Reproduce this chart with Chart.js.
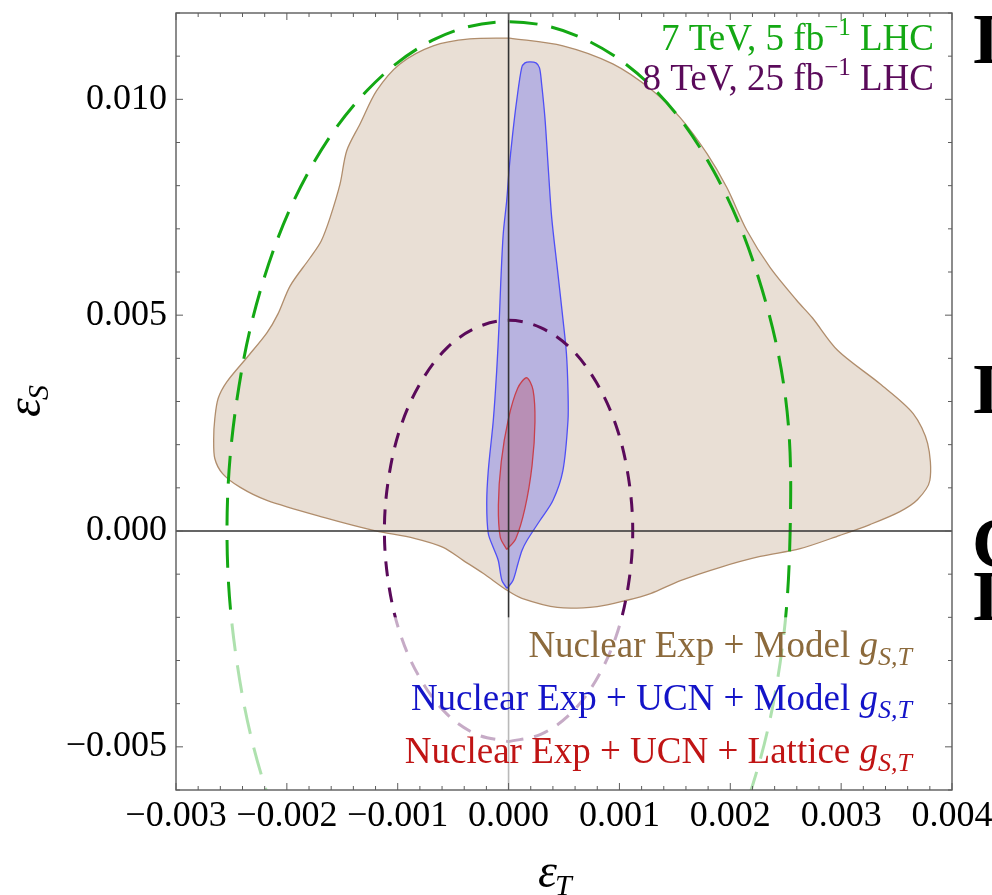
<!DOCTYPE html>
<html>
<head>
<meta charset="utf-8">
<script src="https://cdn.jsdelivr.net/npm/chart.js@4.4.0/dist/chart.umd.min.js"></script>
<style>
  html, body { margin: 0; padding: 0; background: #fff; }
  canvas { display: block; }
</style>
</head>
<body>
<canvas id="chart" width="992" height="895"></canvas>
<script>
const serif = '"Liberation Serif", "Times New Roman", serif';

// axis ticks
const xTicks = [-0.003, -0.002, -0.001, 0, 0.001, 0.002, 0.003, 0.004];
const xTickLabels = ['\u22120.003', '\u22120.002', '\u22120.001', '0.000', '0.001', '0.002', '0.003', '0.004'];
const yTicks = [-0.005, 0, 0.005, 0.010];
const yTickLabels = ['\u22120.005', '0.000', '0.005', '0.010'];

// allowed regions, [eps_T, eps_S]
const nuclearModel = [
  [0.00001, 0.01142], [0.00049, 0.01124], [0.00094, 0.01082], [0.00130, 0.01020], [0.00155, 0.00957],
  [0.00179, 0.00874], [0.00197, 0.00795], [0.00215, 0.00696], [0.00236, 0.00610], [0.00260, 0.00534],
  [0.00274, 0.00494], [0.00297, 0.00418], [0.00335, 0.00341], [0.00365, 0.00272], [0.00378, 0.00203],
  [0.00380, 0.00117], [0.00369, 0.00073], [0.00353, 0.00045], [0.00326, 0.00015], [0.00299, -0.00010],
  [0.00263, -0.00041], [0.00227, -0.00059], [0.00191, -0.00084], [0.00155, -0.00115], [0.00128, -0.00145],
  [0.00106, -0.00161], [0.00080, -0.00175], [0.00044, -0.00177], [0.00012, -0.00156], [-0.00001, -0.00138],
  [-0.00023, -0.00098], [-0.00041, -0.00068], [-0.00059, -0.00038], [-0.00085, -0.00017], [-0.00121, 0.00001],
  [-0.00166, 0.00031], [-0.00218, 0.00071], [-0.00242, 0.00101], [-0.00258, 0.00133], [-0.00265, 0.00168],
  [-0.00266, 0.00214], [-0.00265, 0.00260], [-0.00262, 0.00307], [-0.00254, 0.00346], [-0.00236, 0.00402],
  [-0.00218, 0.00459], [-0.00208, 0.00503], [-0.00197, 0.00568], [-0.00179, 0.00633], [-0.00169, 0.00672],
  [-0.00161, 0.00726], [-0.00152, 0.00804], [-0.00146, 0.00881], [-0.00134, 0.00943], [-0.00119, 0.01020],
  [-0.00098, 0.01082], [-0.00068, 0.01124], [-0.00035, 0.01140], [0.00001, 0.01142]
];

const nuclearUcnModel = [
  [-0.000014, -0.001331], [0.00004, -0.001146], [0.000085, -0.000752], [0.000121, -0.000451], [0.000166, -0.00022],
  [0.000283, 0.000243], [0.0004, 0.000706], [0.00049, 0.0014], [0.000536, 0.00256], [0.000536, 0.00325],
  [0.000522, 0.00411], [0.00049, 0.00492], [0.000439, 0.0061], [0.000389, 0.00726], [0.000358, 0.00841],
  [0.000328, 0.00957], [0.000298, 0.01036], [0.000279, 0.01073], [0.000247, 0.010845], [0.000193, 0.010868],
  [0.000148, 0.010845], [0.000118, 0.01073], [0.000073, 0.009965], [0.000037, 0.009201], [0.000006, 0.008414],
  [-0.000017, 0.00765], [-0.000048, 0.006887], [-0.000071, 0.005729], [-0.000084, 0.004873], [-0.000107, 0.003715],
  [-0.000138, 0.002558], [-0.000183, 0.0014], [-0.000197, 0.000637], [-0.000183, -0.000058], [-0.000138, -0.000382],
  [-0.000093, -0.000683], [-0.00006, -0.001146], [-0.000014, -0.001331]
];

const nuclearUcnLattice = [
  [-0.000017, -0.000428], [-0.000075, -0.000141], [-0.000092, 0.000602], [-0.000066, 0.001604], [-0.000002, 0.002593],
  [0.000082, 0.003308], [0.000163, 0.00355], [0.000221, 0.003266], [0.000238, 0.002523], [0.000212, 0.001521],
  [0.000148, 0.00053], [0.000064, -0.000183], [-0.000017, -0.000428]
];

// LHC bounds
const lhc8 = [
  [0, -0.00488], [0.00029, -0.00471], [0.00056, -0.00423], [0.00079, -0.00345], [0.00097, -0.00244],
  [0.00108, -0.00126], [0.00112, 0], [0.00108, 0.00126], [0.00097, 0.00244], [0.00079, 0.00345],
  [0.00056, 0.00423], [0.00029, 0.00471], [0, 0.00488], [-0.00029, 0.00471], [-0.00056, 0.00423],
  [-0.00079, 0.00345], [-0.00097, 0.00244], [-0.00108, 0.00126], [-0.00112, 0], [-0.00108, -0.00126],
  [-0.00097, -0.00244], [-0.00079, -0.00345], [-0.00056, -0.00423], [-0.00029, -0.00471], [0, -0.00488]
];

const lhc7 = [
  [-0.00180, -0.00834], [-0.00220, -0.00590], [-0.00245, -0.00305], [-0.00254, 0], [-0.00245, 0.00305],
  [-0.00220, 0.00590], [-0.00180, 0.00834], [-0.00127, 0.01022], [-0.00066, 0.01140], [0, 0.01180],
  [0.00068, 0.01140], [0.00132, 0.01022], [0.00185, 0.00834], [0.00225, 0.00590], [0.00250, 0.00305],
  [0.00254, 0], [0.00245, -0.00305], [0.00220, -0.00590], [0.00180, -0.00834]
];

const toPoints = list => list.map(([x, y]) => ({ x, y }));

// draws a run of text pieces with different fonts / offsets, right aligned at xr
function richText(ctx, parts, xr, baseline, color) {
  let w = 0;
  for (const p of parts) { ctx.font = p.font; w += ctx.measureText(p.text).width; }
  let x = xr - w;
  ctx.fillStyle = color;
  ctx.textBaseline = 'alphabetic';
  ctx.textAlign = 'left';
  for (const p of parts) {
    ctx.font = p.font;
    ctx.fillText(p.text, x, baseline + (p.dy || 0));
    x += ctx.measureText(p.text).width;
  }
}

const big = `37px ${serif}`;
const it = `italic 37px ${serif}`;
const sub = `italic 26px ${serif}`;
const sup = `25px ${serif}`;

const overlays = {
  id: 'overlays',
  afterDatasetsDraw(chart) {
    const { ctx, chartArea: a, scales: { x, y } } = chart;
    ctx.save();
    // coordinate axes through the origin
    ctx.strokeStyle = '#333';
    ctx.lineWidth = 1.6;
    ctx.beginPath();
    ctx.moveTo(x.getPixelForValue(0), a.top);
    ctx.lineTo(x.getPixelForValue(0), a.bottom);
    ctx.moveTo(a.left, y.getPixelForValue(0));
    ctx.lineTo(a.right, y.getPixelForValue(0));
    ctx.stroke();

    // legend backdrop
    const yb = y.getPixelForValue(-0.002);
    ctx.fillStyle = 'rgba(255,255,255,0.66)';
    ctx.fillRect(a.left, yb, a.right - a.left, a.bottom - yb);

    const gst = [{ text: 'g', font: it }, { text: 'S,T', font: sub, dy: 8 }];
    richText(ctx, [{ text: 'Nuclear Exp + Model ', font: big }, ...gst], 912, 657, '#8c6a3c');
    richText(ctx, [{ text: 'Nuclear Exp + UCN + Model ', font: big }, ...gst], 912, 710, '#1414c8');
    richText(ctx, [{ text: 'Nuclear Exp + UCN + Lattice ', font: big }, ...gst], 912, 763, '#c01414');

    richText(ctx, [{ text: '7 TeV, 5 fb', font: big }, { text: '\u22121', font: sup, dy: -15 }, { text: ' LHC', font: big }], 934, 50, '#14a814');
    richText(ctx, [{ text: '8 TeV, 25 fb', font: big }, { text: '\u22121', font: sup, dy: -15 }, { text: ' LHC', font: big }], 934, 90, '#5a0a5a');
    ctx.restore();
  },
  afterDraw(chart) {
    const { ctx, chartArea: a, scales: { x, y } } = chart;
    ctx.save();
    ctx.strokeStyle = '#5c5c5c';
    ctx.lineWidth = 1.4;
    ctx.strokeRect(a.left, a.top, a.right - a.left, a.bottom - a.top);

    // inward ticks on all four sides
    ctx.lineWidth = 1;
    ctx.beginPath();
    for (let i = 0; i <= 35; i++) {
      const px = x.getPixelForValue(x.min + i * 0.0002);
      const len = i % 5 === 0 ? 7 : 4;
      ctx.moveTo(px, a.bottom); ctx.lineTo(px, a.bottom - len);
      ctx.moveTo(px, a.top); ctx.lineTo(px, a.top + len);
    }
    for (let i = 0; i <= 18; i++) {
      const py = y.getPixelForValue(y.min + i * 0.001);
      const len = (i - 1) % 5 === 0 ? 7 : 4;
      ctx.moveTo(a.left, py); ctx.lineTo(a.left + len, py);
      ctx.moveTo(a.right, py); ctx.lineTo(a.right - len, py);
    }
    ctx.stroke();

    // axis titles
    ctx.fillStyle = '#000';
    ctx.textBaseline = 'alphabetic';
    ctx.textAlign = 'left';
    ctx.font = `italic 48px ${serif}`;
    const ew = ctx.measureText('\u03b5').width;
    ctx.fillText('\u03b5', 538, 887);
    ctx.font = `italic 30px ${serif}`;
    ctx.fillText('T', 538 + ew - 2, 895);

    ctx.translate(40, 417);
    ctx.rotate(-Math.PI / 2);
    ctx.font = `italic 48px ${serif}`;
    ctx.fillText('\u03b5', 0, 0);
    ctx.font = `italic 30px ${serif}`;
    ctx.fillText('S', ew - 2, 8);
    ctx.restore();

    // neighbouring text cut off by the right edge
    ctx.save();
    ctx.fillStyle = '#000';
    ctx.font = `bold 72px ${serif}`;
    ctx.textBaseline = 'alphabetic';
    ctx.fillText('I', 972, 63);
    ctx.fillText('I', 972, 413);
    ctx.fillText('C', 972, 567);
    ctx.fillText('I', 972, 620);
    ctx.restore();
  }
};

const region = (label, pts, fillColor, lineColor, order) => ({
  label, data: toPoints(pts), showLine: true, fill: 'shape',
  backgroundColor: fillColor, borderColor: lineColor, borderWidth: 1.3,
  tension: 0.3, pointRadius: 0, order
});

new Chart(document.getElementById('chart'), {
  type: 'scatter',
  data: {
    datasets: [
      { label: '7 TeV, 5 fb-1 LHC', data: toPoints(lhc7), showLine: true, fill: false,
        borderColor: '#14a814', borderWidth: 3, borderDash: [28, 14], tension: 0.35, pointRadius: 0, order: 1 },
      { label: '8 TeV, 25 fb-1 LHC', data: toPoints(lhc8), showLine: true, fill: false,
        borderColor: '#5a0a5a', borderWidth: 3, borderDash: [15, 11], tension: 0.35, pointRadius: 0, order: 2 },
      region('Nuclear Exp + UCN + Lattice', nuclearUcnLattice, '#b88fb5', '#c8404c', 3),
      region('Nuclear Exp + UCN + Model', nuclearUcnModel, '#b8b3e0', '#4f4ff5', 4),
      region('Nuclear Exp + Model', nuclearModel, '#e9dfd5', '#b08d6c', 5)
    ]
  },
  options: {
    responsive: false,
    animation: false,
    devicePixelRatio: 1,
    layout: { padding: { top: 13, right: 40, bottom: 0, left: 0 } },
    elements: { line: { capBezierPoints: false } },
    plugins: { legend: { display: false }, tooltip: { enabled: false } },
    scales: {
      x: {
        type: 'linear', min: -0.003, max: 0.004,
        grid: { display: false, drawTicks: false },
        border: { display: false },
        afterBuildTicks: s => { s.ticks = xTicks.map(value => ({ value })); },
        afterFit: s => { s.height = 105; s.paddingLeft = 0; s.paddingRight = 0; },
        ticks: { callback: (v, i) => xTickLabels[i], font: { family: serif, size: 36 }, color: '#000',
          padding: 5, autoSkip: false, maxRotation: 0, minRotation: 0 }
      },
      y: {
        type: 'linear', min: -0.006, max: 0.012,
        grid: { display: false, drawTicks: false },
        border: { display: false },
        afterBuildTicks: s => { s.ticks = yTicks.map(value => ({ value })); },
        afterFit: s => { s.width = 176; s.paddingTop = 0; s.paddingBottom = 0; },
        ticks: { callback: (v, i) => yTickLabels[i], font: { family: serif, size: 36 }, color: '#000',
          padding: 9, autoSkip: false }
      }
    }
  },
  plugins: [overlays]
});
</script>
</body>
</html>
